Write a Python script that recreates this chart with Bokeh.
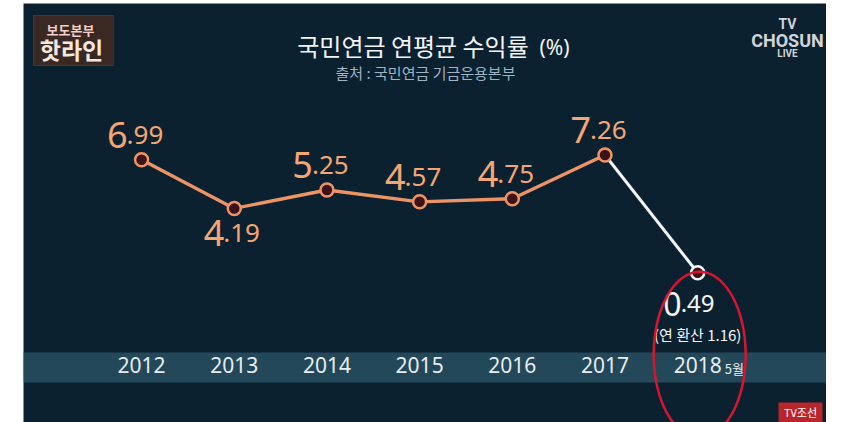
import numpy as np
from bokeh.plotting import figure
from bokeh.models import FixedTicker, BoxAnnotation, Label, PolyAnnotation, Spacer
from bokeh.layouts import row, column
from bokeh.core.properties import value
from bokeh.embed import file_html
from bokeh.resources import INLINE

# ---------------- data ----------------
years = ["2012", "2013", "2014", "2015", "2016", "2017", "2018"]
returns = [6.99, 4.19, 5.25, 4.57, 4.75, 7.26, 0.49]
period_note = "5월"
annualized_2018 = 1.16
title_text = "국민연금 연평균 수익률"
title_unit = "(%)"
source_text = "출처 : 국민연금 기금운용본부"
label_side = ["above", "below", "above", "above", "above", "above", "below"]

# ---------------- style ----------------
BG = "#0c2130"
BAND = "#234859"
ORANGE_LINE = "#ec9466"
ORANGE_TEXT = "#f5a672"
DOT_FILL = "#3e1216"
WHITE = "#f4f6f7"
KR = "Noto Sans CJK KR"
NUM = "Noto Sans"

LEFT_PAD, TOP_PAD = 23, 3
W, H = 803, 419
X0, X1 = -1.274, 7.390
PPU_X = W / (X1 - X0)
PPU_Y = 17.39
Y1 = (280.8 - TOP_PAD) / PPU_Y
Y0 = Y1 - H / PPU_Y


def X(px):  # page pixel -> data x
    return X0 + (px - LEFT_PAD) / PPU_X


def Y(py):  # page pixel -> data y
    return Y1 - (py - TOP_PAD) / PPU_Y


xs = list(range(len(years)))

p = figure(width=W, height=H, x_range=(X0, X1), y_range=(Y0, Y1),
           output_backend="svg", toolbar_location=None, y_axis_location=None,
           min_border_left=0, min_border_right=0, min_border_top=0,
           min_border_bottom=0,
           background_fill_color=BG, border_fill_color=BG, outline_line_color=None)
p.grid.visible = False

# year band
p.add_layout(BoxAnnotation(top=Y(352), bottom=Y(382), fill_color=BAND,
                           fill_alpha=1.0, line_color=None, level="underlay"))

# x axis labels drawn up inside the band
ax = p.xaxis[0]
ax.ticker = FixedTicker(ticks=xs)
ax.major_label_overrides = {i: y for i, y in zip(xs, years)}
ax.axis_line_color = None
ax.major_tick_line_color = None
ax.minor_tick_line_color = None
ax.major_tick_out = 0
ax.major_tick_in = 0
ax.major_label_standoff = -66
ax.major_label_text_font = NUM
ax.major_label_text_font_size = "21px"
ax.major_label_text_color = "#e8eef1"

# lines & markers
p.line(xs[:6], returns[:6], line_color=ORANGE_LINE, line_width=3.4)
p.line(xs[5:], returns[5:], line_color=WHITE, line_width=3)
p.scatter(xs[:6], returns[:6], size=13, fill_color=DOT_FILL,
          line_color=ORANGE_LINE, line_width=2.5)
p.scatter(xs[6:], returns[6:], size=13, fill_color=DOT_FILL,
          line_color=WHITE, line_width=2.5)

# value labels: big integer part + smaller decimal part
int_parts = [f"{v:.2f}".split(".")[0] for v in returns]
dec_parts = ["." + f"{v:.2f}".split(".")[1] for v in returns]


def add_labels(idx, color, int_size, dec_size, yoff, split):
    xx = [xs[i] for i in idx]
    yy = [returns[i] for i in idx]
    p.text(xx, yy, text=[int_parts[i] for i in idx], text_align="right",
           text_baseline="alphabetic", x_offset=split, y_offset=yoff,
           text_font=value(NUM), text_font_size=int_size, text_color=color)
    p.text(xx, yy, text=[dec_parts[i] for i in idx], text_align="left",
           text_baseline="alphabetic", x_offset=split - 1, y_offset=yoff,
           text_font=value(NUM), text_font_size=dec_size, text_color=color)


above = [i for i in range(6) if label_side[i] == "above"]
below = [i for i in range(6) if label_side[i] == "below"]
add_labels(above, ORANGE_TEXT, "36px", "26px", -25, -14)
add_labels(below, ORANGE_TEXT, "36px", "26px", 25, -10)
add_labels([6], WHITE, "32px", "24px", 31, -16)

p.text([xs[-1]], [returns[-1]], text=[f"(연 환산 {annualized_2018:.2f})"],
       text_align="center", text_baseline="alphabetic", y_offset=62,
       text_font=value(KR), text_font_size="15px", text_color=WHITE)

# "5월" after the last year label
p.text([xs[-1]], [Y(368)], text=[period_note], text_align="left",
       text_baseline="alphabetic", x_offset=27,
       text_font=value(KR), text_font_size="13px", text_color="#e8eef1")

# red hand-drawn loop around the last value
t = np.linspace(0, 2 * np.pi, 80)
cx, cy = xs[-1] + 2 / PPU_X, returns[-1] - 82 / PPU_Y
loop_x = list(cx + 46 / PPU_X * np.sin(t))
loop_y = list(cy + 83 / PPU_Y * np.cos(t))
p.add_layout(PolyAnnotation(xs=loop_x, ys=loop_y, fill_alpha=0,
                            line_color="#d4162e", line_alpha=1.0, line_width=2.5))

# titles
p.add_layout(Label(x=X(412.5), y=Y(45), text=title_text, text_align="center",
                   text_baseline="alphabetic", text_font=KR,
                   text_font_size="24px", text_color="#f2f4f5"))
p.add_layout(Label(x=X(539), y=Y(46), text=title_unit, text_align="left",
                   text_baseline="alphabetic", text_font=NUM,
                   text_font_size="21px", text_color="#f2f4f5"))
p.add_layout(Label(x=X(425), y=Y(72), text=source_text, text_align="center",
                   text_baseline="alphabetic", text_font=KR,
                   text_font_size="15px", text_color="#9fb3c2"))

# broadcaster logos
p.add_layout(BoxAnnotation(left=X(33), right=X(113), top=Y(15), bottom=Y(65),
                           fill_color="#3a2823", fill_alpha=1.0,
                           line_color="#7a6a60", line_width=1))
p.add_layout(Label(x=X(70), y=Y(29), text="보도본부", text_align="center",
                   text_baseline="alphabetic", text_font=KR, text_font_style="bold",
                   text_font_size="13px", text_color="#f3cfc6"))
p.add_layout(Label(x=X(71), y=Y(48), text="핫라인", text_align="center",
                   text_baseline="alphabetic", text_font=KR, text_font_style="bold",
                   text_font_size="23px", text_color="#f5e8de"))
for txt, yy, sz in [("TV", 23, "14px"), ("CHOSUN", 40, "18px"), ("LIVE", 53, "10px")]:
    p.add_layout(Label(x=X(787), y=Y(yy), text=txt, text_align="center",
                       text_baseline="alphabetic", text_font="Roboto",
                       text_font_style="bold", text_font_size=sz,
                       text_color="#cfd5da"))
p.add_layout(BoxAnnotation(left=X(778), right=X(822), top=Y(402), bottom=Y(422),
                           fill_color="#b8262c", fill_alpha=1.0, line_color=None))
p.add_layout(Label(x=X(800), y=Y(411), text="TV조선", text_align="center",
                   text_baseline="alphabetic", text_font=KR,
                   text_font_size="11px", text_color="white"))

layout = column(Spacer(width=10, height=TOP_PAD),
                row(Spacer(width=LEFT_PAD, height=H), p))
open("out.html", "w").write(file_html(layout, INLINE))
